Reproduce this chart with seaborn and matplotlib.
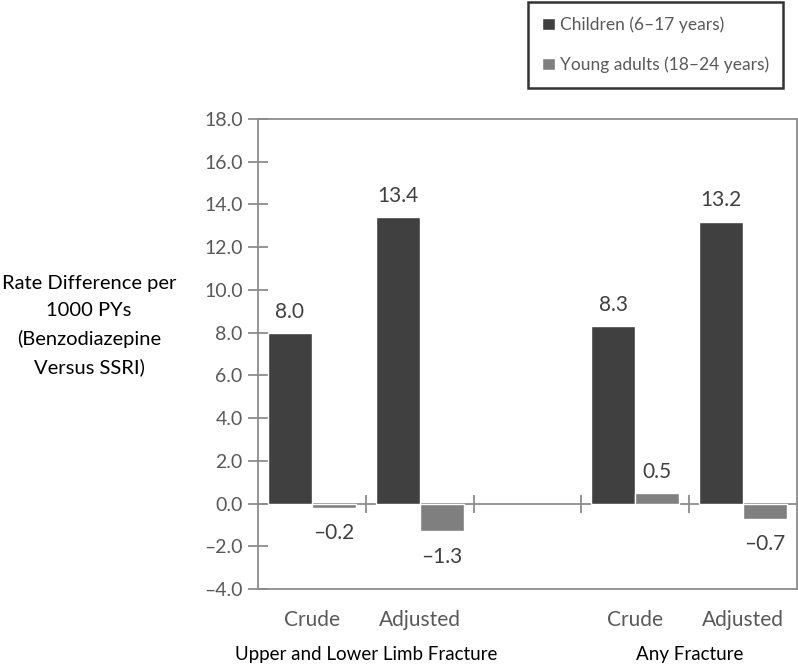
import pandas as pd
import seaborn as sns
import matplotlib.pyplot as plt
from matplotlib.ticker import FuncFormatter
import matplotlib.transforms as mtransforms

# data
slots = ["UL_Crude", "UL_Adjusted", "gap", "AF_Crude", "AF_Adjusted"]
slot_labels = ["Crude", "Adjusted", "", "Crude", "Adjusted"]
bar_slots = ["UL_Crude", "UL_Adjusted", "AF_Crude", "AF_Adjusted"]
children = [8.0, 13.4, 8.3, 13.2]
young_adults = [-0.2, -1.3, 0.5, -0.7]
series_names = ["Children (6\u201317 years)", "Young adults (18\u201324 years)"]
group_names = ["Upper and Lower Limb Fracture", "Any Fracture"]
group_centers = [0.5, 3.5]

sns.set_theme(style="white")
plt.rcParams['font.family'] = ['Lato', 'DejaVu Sans']

df = pd.DataFrame({
    'slot': bar_slots * 2,
    'value': children + young_adults,
    'series': [series_names[0]] * 4 + [series_names[1]] * 4,
})

fig = plt.figure(figsize=(7.98, 6.69), dpi=100)
ax = fig.add_axes([258 / 798, 1 - 589 / 669, 539 / 798, 470 / 669])

sns.barplot(data=df, x='slot', y='value', hue='series', order=slots,
            hue_order=series_names, palette=['#404040', '#7f7f7f'],
            width=0.82, saturation=1, ax=ax, legend=True)

axis_grey = '#8c8c8c'
txt_grey = '#595959'
fmt = lambda v: f"{v:.1f}".replace("-", "\u2013")

ax.set_ylim(-4, 18)
ax.set_xlim(-0.5, 4.5)
ax.set_yticks(range(-4, 19, 2))
ax.yaxis.set_major_formatter(FuncFormatter(lambda v, p: fmt(v)))
ax.tick_params(axis='y', direction='inout', length=14, width=1.3, color=axis_grey,
               labelsize=14, labelcolor=txt_grey, pad=4, left=True)
ax.set_xticks(range(len(slots)))
ax.set_xticklabels(slot_labels)
ax.tick_params(axis='x', length=0, pad=15, labelsize=15, labelcolor=txt_grey)
ax.set_xlabel('')
for s in ax.spines.values():
    s.set_color(axis_grey)
    s.set_linewidth(1.3)

# zero line with category boundary ticks
zero = ax.secondary_xaxis(4 / 22)
zero.set_xticks([0.5, 1.5, 2.5, 3.5])
zero.set_xticklabels([])
zero.tick_params(direction='inout', length=13, width=1.3, color=axis_grey)
zero.spines['bottom'].set_color(axis_grey)
zero.spines['bottom'].set_linewidth(1.3)

# value labels: positives above, negatives below with a bit more room
for c in ax.containers:
    vals = c.datavalues
    ax.bar_label(c, labels=[fmt(v) if v >= 0 else '' for v in vals],
                 padding=8, fontsize=15, color='#404040')
    ax.bar_label(c, labels=[fmt(v) if v < 0 else '' for v in vals],
                 padding=11, fontsize=15, color='#404040')

ax.set_ylabel("Rate Difference per\n1000 PYs\n(Benzodiazepine\nVersus SSRI)",
              rotation=0, fontsize=14.5, color='black', ha='center', va='center',
              linespacing=1.7)
ax.yaxis.set_label_coords(-0.3135, 0.56)

trans = mtransforms.blended_transform_factory(ax.transData, ax.transAxes)
for name, xc in zip(group_names, group_centers):
    ax.text(xc, -0.139, name, transform=trans, ha='center', va='center',
            fontsize=13.5, color='black')

handles, labels = ax.get_legend_handles_labels()
ax.get_legend().remove()
leg = fig.legend(handles, labels, loc='upper left',
                 bbox_to_anchor=(526 / 798, 1.0, 259 / 798, 0.0), mode='expand',
                 frameon=True, fancybox=False, edgecolor='black', fontsize=12.5,
                 handlelength=0.7, handleheight=0.7, handletextpad=0.3,
                 labelspacing=1.35, borderpad=0.85, borderaxespad=0.1)
leg.get_frame().set_linewidth(1.8)
for t in leg.get_texts():
    t.set_color(txt_grey)

fig.savefig('out.png', dpi=100)
